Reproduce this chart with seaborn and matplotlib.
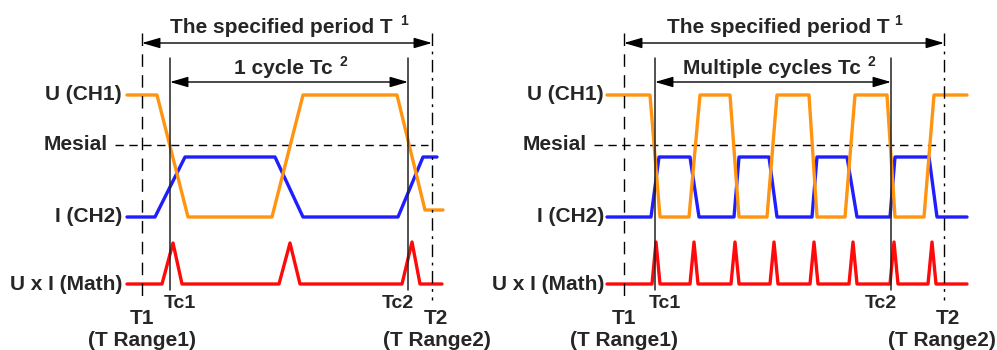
import pandas as pd
import matplotlib.pyplot as plt
import seaborn as sns

# Waveform vertices (time, level), in picture units.
left_u_t = [127, 157, 188, 272, 303, 397, 425, 443]
left_u_v = [95, 95, 217, 217, 95, 95, 210, 210]
left_i_t = [127, 155, 185, 275, 303, 398, 423, 437]
left_i_v = [217, 217, 157, 157, 217, 217, 157, 157]
left_m_t = [127, 162, 173, 182, 279, 290, 300, 402, 412, 420, 442]
left_m_v = [284, 284, 243, 284, 284, 243, 284, 284, 242, 284, 284]

right_u_t = [607, 650, 660, 689, 700, 730, 739, 767, 777, 809, 817, 845, 855, 887, 895, 924, 934, 967]
right_u_v = [95, 95, 217, 217, 95, 95, 217, 217, 95, 95, 217, 217, 95, 95, 217, 217, 95, 95]
right_i_t = [607, 651, 659, 690, 699, 734, 739, 769, 777, 812, 817, 847, 857, 890, 895, 929, 937, 967]
right_i_v = [217, 217, 157, 157, 217, 217, 157, 157, 217, 217, 157, 157, 217, 217, 157, 157, 217, 217]
right_m_t = [607, 652, 656, 660, 690, 694, 698, 731, 735, 739, 770, 774, 778,
             810, 814, 818, 849, 853, 857, 890, 894, 898, 928, 932, 936, 967]
right_m_v = [284, 284, 242, 284, 284, 242, 284, 284, 242, 284, 284, 242, 284,
             284, 242, 284, 284, 242, 284, 284, 242, 284, 284, 242, 284, 284]

# Markers per panel: T1, Tc1, Tc2, T2
left_marks = [142, 170, 408, 432]
right_marks = [624, 655, 891, 944]
mesial_level = 145
row_labels = ['U (CH1)', 'Mesial', 'I (CH2)', 'U x I (Math)']
row_levels = [95, 145, 217, 284]
titles = ['1 cycle Tc', 'Multiple cycles Tc']

ORANGE = '#FF9410'
BLUE = '#1E1EFF'
RED = '#FF0A0A'

sns.set_theme(style='white')
plt.rcParams['font.family'] = ['Liberation Sans', 'DejaVu Sans']

fig = plt.figure(figsize=(9.97, 3.5), dpi=100)
ax = fig.add_axes([0, 0, 1, 1])
ax.set_xlim(0, 997)
ax.set_ylim(350, 0)
ax.axis('off')

FS = 15
kw = dict(sort=False, estimator=None, lw=2.4, legend=False, ax=ax)

panels = [
    (left_u_t, left_u_v, left_i_t, left_i_v, left_m_t, left_m_v, left_marks, 122, 108, 115, 428, titles[0], 283, 437),
    (right_u_t, right_u_v, right_i_t, right_i_v, right_m_t, right_m_v, right_marks, 604, 587, 594, 937, titles[1], 772, 942),
]

for (ut, uv, it, iv, mt, mv, marks, lab_x, mes_x, m0, m1, title, tx, r2x) in panels:
    t1, tc1, tc2, t2 = marks
    # mesial line
    ax.plot([m0, m1], [mesial_level, mesial_level], color='black', lw=1, dashes=(6, 4), zorder=1)

    for t, v, c in [(it, iv, BLUE), (ut, uv, ORANGE), (mt, mv, RED)]:
        df = pd.DataFrame({'t': t, 'v': v})
        sns.lineplot(data=df, x='t', y='v', color=c, zorder=3, **kw)

    # boundary lines
    ax.plot([t1, t1], [33, 300], color='black', lw=1, dashes=(9, 6), zorder=4)
    ax.plot([t2, t2], [33, 300], color='black', lw=1, dashes=(9, 4, 2, 4), zorder=4)
    ax.plot([tc1, tc1], [58, 290], color='#222222', lw=1.1, zorder=4)
    ax.plot([tc2, tc2], [58, 290], color='#222222', lw=1.1, zorder=4)

    # arrows
    ap = dict(arrowstyle='<|-|>,head_length=1.1,head_width=0.32', color='black', lw=1,
              mutation_scale=10, shrinkA=0, shrinkB=0)
    ax.annotate('', xy=(t2, 43), xytext=(t1, 43), arrowprops=ap)
    ax.annotate('', xy=(tc2, 82), xytext=(tc1, 82), arrowprops=ap)

    mid = (t1 + t2) / 2 - 6
    ax.text(mid, 33, 'The specified period T', ha='center', va='baseline',
            fontsize=FS, fontweight='bold')
    ax.text(tx, 74, title, ha='center', va='baseline', fontsize=FS, fontweight='bold')

    # row labels
    for lab, lv in zip(row_labels, row_levels):
        x = mes_x if lab == 'Mesial' else lab_x
        ax.text(x, lv, lab, ha='right', va='center', fontsize=FS, fontweight='bold')

    # marker labels
    ax.text(tc1 + 10, 303, 'Tc1', ha='center', va='center', fontsize=FS - 1, fontweight='bold')
    ax.text(tc2 - 10, 303, 'Tc2', ha='center', va='center', fontsize=FS - 1, fontweight='bold')
    ax.text(t1, 319, 'T1', ha='center', va='center', fontsize=FS, fontweight='bold')
    ax.text(t2 + 4, 319, 'T2', ha='center', va='center', fontsize=FS, fontweight='bold')
    ax.text(t1, 340, '(T Range1)', ha='center', va='center', fontsize=FS, fontweight='bold')
    ax.text(r2x, 340, '(T Range2)', ha='center', va='center', fontsize=FS, fontweight='bold')

# superscripts
ax.text(404, 21, '1', ha='center', va='center', fontsize=10, fontweight='bold')
ax.text(898, 21, '1', ha='center', va='center', fontsize=10, fontweight='bold')
ax.text(343, 62, '2', ha='center', va='center', fontsize=10, fontweight='bold')
ax.text(871, 62, '2', ha='center', va='center', fontsize=10, fontweight='bold')

fig.savefig('out.png', dpi=100)
